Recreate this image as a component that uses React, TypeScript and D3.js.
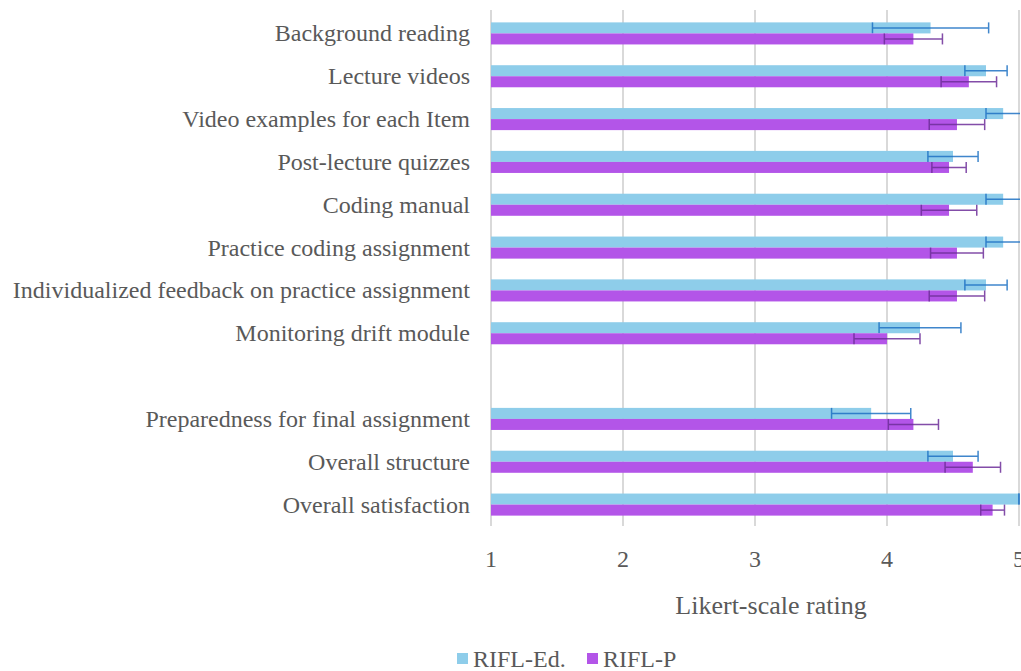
import { useEffect, useRef } from "react";
import * as d3 from "d3";

const width = 1021,
  height = 671;
const margin = { top: 12, right: 2, bottom: 145, left: 491 };

const categories = [
  "Background reading",
  "Lecture videos",
  "Video examples for each Item",
  "Post-lecture quizzes",
  "Coding manual",
  "Practice coding assignment",
  "Individualized feedback on practice assignment",
  "Monitoring drift module",
  "Preparedness for final assignment",
  "Overall structure",
  "Overall satisfaction",
];
// empty row is shown after this item
const gapAfter = "Monitoring drift module";

const seriesNames = ["RIFL-Ed.", "RIFL-P"];
const edMeans = [4.33, 4.75, 4.88, 4.5, 4.88, 4.88, 4.75, 4.25, 3.88, 4.5, 5.0];
const edErrors = [0.44, 0.16, 0.13, 0.19, 0.13, 0.13, 0.16, 0.31, 0.3, 0.19, 0];
const pMeans = [4.2, 4.62, 4.53, 4.47, 4.47, 4.53, 4.53, 4.0, 4.2, 4.65, 4.8];
const pErrors = [0.22, 0.21, 0.21, 0.13, 0.21, 0.2, 0.21, 0.25, 0.19, 0.21, 0.09];
const xTicks = [1, 2, 3, 4, 5];

const barColors = ["#8ecdea", "#b355e8"];
const errColors = ["#1f72c4", "#6e2f9a"];
const textColor = "#595959";
const font = "'Liberation Serif', 'Times New Roman', serif";

const App = () => {
  const ref = useRef<SVGSVGElement | null>(null);

  useEffect(() => {
    document.body.style.margin = "0";
    const svg = d3.select(ref.current);
    svg.selectAll("*").remove();

    const innerW = width - margin.left - margin.right;
    const innerH = height - margin.top - margin.bottom;

    const rows: string[] = [];
    categories.forEach((c) => {
      rows.push(c);
      if (c === gapAfter) rows.push("__gap");
    });

    const x = d3.scaleLinear().domain([1, 5]).range([0, innerW]);
    const y = d3.scaleBand().domain(rows).range([0, innerH]).paddingInner(0.485).paddingOuter(0.2425);
    const ySub = d3.scaleBand().domain(seriesNames).range([0, y.bandwidth()]);

    const g = svg.append("g").attr("transform", `translate(${margin.left},${margin.top})`);

    // gridlines
    g.selectAll(".grid")
      .data(xTicks)
      .join("line")
      .attr("x1", (d) => x(d))
      .attr("x2", (d) => x(d))
      .attr("y1", -2)
      .attr("y2", innerH)
      .attr("stroke", "#d9d9d9")
      .attr("stroke-width", 2);

    // tick labels
    g.selectAll(".tick-label")
      .data(xTicks)
      .join("text")
      .attr("x", (d) => x(d))
      .attr("y", innerH + 41)
      .attr("text-anchor", "middle")
      .attr("font-size", 24)
      .attr("font-family", font)
      .attr("fill", textColor)
      .text((d) => d);

    // category labels
    g.selectAll(".cat")
      .data(categories)
      .join("text")
      .attr("x", -21)
      .attr("y", (d) => (y(d) as number) + y.bandwidth() / 2)
      .attr("dy", "0.33em")
      .attr("text-anchor", "end")
      .attr("font-size", 24)
      .attr("font-family", font)
      .attr("fill", textColor)
      .text((d) => d);

    const series = [
      { name: seriesNames[0], means: edMeans, errs: edErrors },
      { name: seriesNames[1], means: pMeans, errs: pErrors },
    ];

    series.forEach((s, si) => {
      const sg = g.append("g");
      const yy = (i: number) => (y(categories[i]) as number) + (ySub(s.name) as number);
      sg.selectAll("rect")
        .data(s.means)
        .join("rect")
        .attr("x", 0)
        .attr("y", (_, i) => yy(i))
        .attr("width", (d) => x(d))
        .attr("height", ySub.bandwidth())
        .attr("fill", barColors[si]);

      // error bars
      s.means.forEach((m, i) => {
        const e = s.errs[i];
        const cy = yy(i) + ySub.bandwidth() / 2;
        const lo = x(m - e);
        const hi = Math.min(x(m + e), x(5) + 1);
        const eg = sg.append("g").attr("stroke", errColors[si]).attr("stroke-width", 1.5).attr("opacity", 0.85);
        if (e > 0) eg.append("line").attr("x1", lo).attr("x2", hi).attr("y1", cy).attr("y2", cy);
        [lo, x(m + e)].forEach((px) => {
          if (px > x(5) + 1) return;
          eg.append("line")
            .attr("x1", px)
            .attr("x2", px)
            .attr("y1", cy - ySub.bandwidth() / 2)
            .attr("y2", cy + ySub.bandwidth() / 2);
        });
      });
    });

    // axis title
    svg.append("text")
      .attr("x", margin.left + innerW / 2 + 16)
      .attr("y", 614)
      .attr("text-anchor", "middle")
      .attr("font-size", 26)
      .attr("font-family", font)
      .attr("fill", textColor)
      .text("Likert-scale rating");

    // legend
    const legendX = [457, 587];
    seriesNames.forEach((name, i) => {
      svg.append("rect")
        .attr("x", legendX[i])
        .attr("y", 653)
        .attr("width", 11)
        .attr("height", 11)
        .attr("fill", barColors[i]);
      svg.append("text")
        .attr("x", legendX[i] + 16)
        .attr("y", 667)
        .attr("font-size", 24)
        .attr("font-family", font)
        .attr("fill", textColor)
        .text(name);
    });
  }, []);

  return <svg ref={ref} width={width} height={height} style={{ display: "block" }} />;
};

export default App;
